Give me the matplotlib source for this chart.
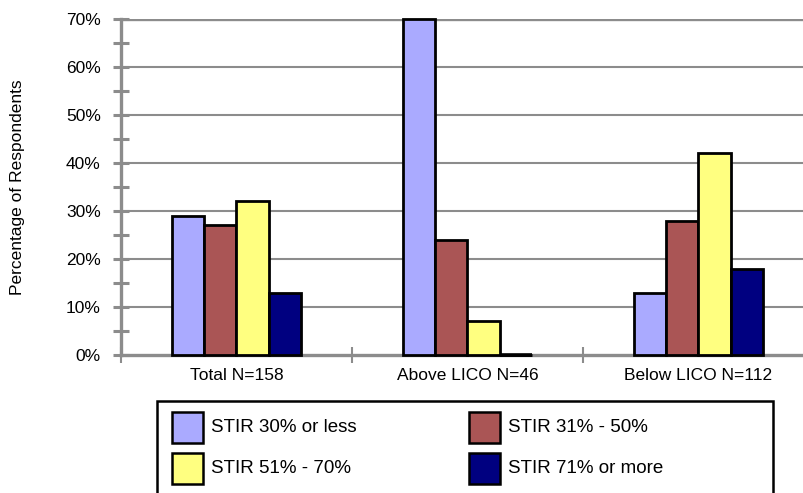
import matplotlib
matplotlib.use("Agg")
import matplotlib.pyplot as plt
from matplotlib.patches import Rectangle
import numpy as np

plt.rcParams['font.family'] = ['Liberation Sans', 'DejaVu Sans']

categories = ["Total N=158", "Above LICO N=46", "Below LICO N=112"]
series_labels = ["STIR 30% or less", "STIR 31% - 50%", "STIR 51% - 70%", "STIR 71% or more"]
values = [
    [29, 70, 13],   # STIR 30% or less
    [27, 24, 28],   # STIR 31% - 50%
    [32, 7, 42],    # STIR 51% - 70%
    [13, 0, 18],    # STIR 71% or more
]
colors = ["#AAAAFF", "#AA5555", "#FFFF80", "#000080"]
yticks = [0, 10, 20, 30, 40, 50, 60, 70]

W, H = 804, 493
fig = plt.figure(figsize=(W / 100, H / 100), dpi=100)
ax = fig.add_axes([121 / W, 1 - 355 / H, 693 / W, 336 / H])

grey = "#8C8C8C"
x = np.arange(len(categories))
bw = 0.1405
offsets = (np.arange(len(series_labels)) - 1.5) * bw
for vals, col, off, lab in zip(values, colors, offsets, series_labels):
    ax.bar(x + off, vals, width=bw, color=col, edgecolor="black",
           linewidth=2.0, label=lab, zorder=3, clip_on=False)
    # zero-height bars still show their outline as a flat black line
    for xi, v in zip(x + off, vals):
        if v == 0:
            ax.hlines(v, xi - bw / 2, xi + bw / 2, color="black",
                      linewidth=2.6, zorder=4, clip_on=False)

ax.set_xlim(-0.5, 2.5)
ax.set_ylim(0, 70)

# horizontal gridlines
for t in yticks[1:-1]:
    ax.axhline(t, color=grey, linewidth=1.5, zorder=1)
ax.axhline(70, color=grey, linewidth=2.4, zorder=1)

for s in ["right", "top"]:
    ax.spines[s].set_visible(False)
for s in ["left", "bottom"]:
    ax.spines[s].set_color(grey)
    ax.spines[s].set_linewidth(2.4)
    ax.spines[s].set_zorder(2)

ax.set_yticks(yticks)
ax.set_yticklabels([f"{t}%" for t in yticks], fontsize=12.5)
ax.set_yticks(np.arange(5, 70, 10), minor=True)
ax.tick_params(axis="y", which="both", direction="inout", length=11,
               width=2.2, color=grey, pad=9)

ax.set_xticks([-0.5, 0.5, 1.5, 2.5])
ax.set_xticklabels([])
ax.set_xticks(x, minor=True)
ax.set_xticklabels(categories, minor=True, fontsize=12.5)
ax.tick_params(axis="x", which="major", direction="inout", length=11,
               width=1.5, color=grey)
ax.tick_params(axis="x", which="minor", length=0, pad=9)

fig.text(18 / W, 1 - 187 / H, "Percentage of Respondents", rotation=90,
         ha="center", va="center", fontsize=12.5)

# legend box
fig.patches.append(Rectangle((157 / W, 1 - 500 / H), (773 - 157) / W, 99 / H,
                             transform=fig.transFigure, facecolor="white",
                             edgecolor="black", linewidth=1.8))
sw, sh = 31, 31
pos = [(172, 412), (469, 412), (172, 453), (469, 453)]
for (px, py), col, lab in zip(pos, colors, series_labels):
    fig.patches.append(Rectangle((px / W, 1 - (py + sh) / H), sw / W, sh / H,
                                 transform=fig.transFigure, facecolor=col,
                                 edgecolor="black", linewidth=1.8))
    fig.text((px + sw + 8) / W, 1 - (py + sh / 2) / H, lab,
             ha="left", va="center", fontsize=13.5)

fig.savefig("out.png", dpi=100)
